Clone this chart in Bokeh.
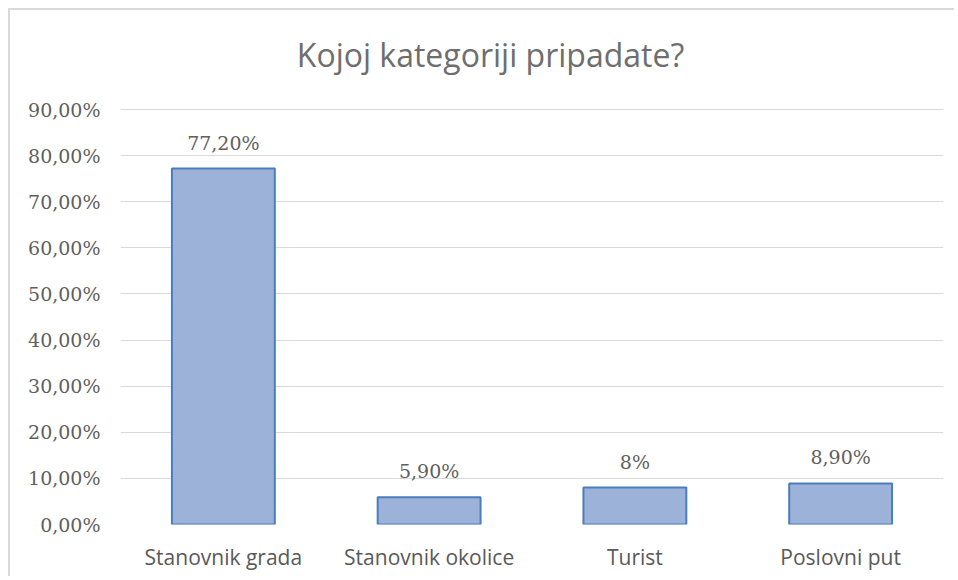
from bokeh.plotting import figure
from bokeh.models import ColumnDataSource, CustomJSTickFormatter, FixedTicker, Range1d, Label
from bokeh.core.properties import value
from bokeh.embed import file_html
from bokeh.resources import INLINE

categories = ["Stanovnik grada", "Stanovnik okolice", "Turist", "Poslovni put"]
values = [77.2, 5.9, 8.0, 8.9]
value_labels = ["77,20%", "5,90%", "8%", "8,90%"]
y_ticks = [0, 10, 20, 30, 40, 50, 60, 70, 80, 90]
title_text = "Kojoj kategoriji pripadate?"

src = ColumnDataSource(dict(cat=categories, val=values, lab=value_labels))

# frame spans the whole height above the x labels; top 90% gridline sits 99px below the top
p = figure(x_range=categories, y_range=Range1d(0, 90 * 514 / 415), width=946, height=568,
           output_backend="svg", toolbar_location=None,
           min_border_left=110, min_border_right=13, min_border_top=0, min_border_bottom=54)
p.styles = {"margin-left": "8px", "margin-top": "8px",
            "border-top": "2px solid #d9d9d9", "border-left": "2px solid #d9d9d9"}
p.outline_line_color = None
p.background_fill_color = "white"
p.border_fill_color = "white"

p.add_layout(Label(text=title_text, x=370, y=470, x_units="screen", y_units="screen",
                   text_align="center", text_baseline="middle",
                   text_font="Open Sans", text_font_size="32px",
                   text_color="#6e6e6e"))

p.vbar(x="cat", top="val", width=0.5, source=src, fill_color="#9cb2d8",
       line_color="#4a7ebb", line_width=2)
p.text(x="cat", y="val", text="lab", source=src, y_offset=-15,
       text_align="center", text_baseline="bottom",
       text_font=value("DejaVu Serif"), text_font_size="19px", text_color="#5f5f5f")

p.yaxis.ticker = FixedTicker(ticks=y_ticks)
p.yaxis.formatter = CustomJSTickFormatter(code="return tick.toFixed(2).replace('.', ',') + '%';")
p.yaxis.axis_line_color = None
p.yaxis.major_tick_line_color = None
p.yaxis.minor_tick_line_color = None
p.yaxis.major_label_text_font = "DejaVu Serif"
p.yaxis.major_label_text_font_size = "19px"
p.yaxis.major_label_text_color = "#5f5f5f"
p.yaxis.major_label_standoff = 14

p.xaxis.axis_line_color = None
p.xaxis.major_tick_line_color = None
p.xaxis.major_label_text_font = "Open Sans"
p.xaxis.major_label_text_font_size = "21px"
p.xaxis.major_label_text_color = "#595959"
p.xaxis.major_label_standoff = 12

p.xgrid.grid_line_color = None
p.ygrid.grid_line_color = "#d9d9d9"
p.ygrid.grid_line_width = 1
p.x_range.range_padding = 0

open("out.html", "w").write(file_html(p, INLINE))
